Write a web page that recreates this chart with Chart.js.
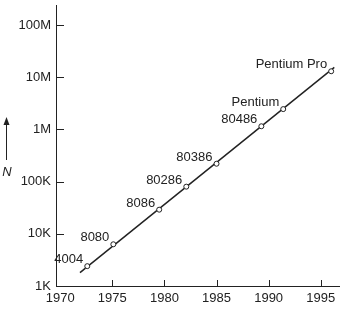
<!DOCTYPE html>
<html>
<head>
<meta charset="utf-8">
<script src="https://cdn.jsdelivr.net/npm/chart.js@4.4.1/dist/chart.umd.min.js"></script>
<style>
  html, body { margin: 0; padding: 0; background: #fff; }
  #wrap { width: 344px; height: 314px; }
</style>
</head>
<body>
<div id="wrap"><canvas id="mooreChart"></canvas></div>
<script>
// processors: year of introduction and transistor count
const chipNames = ['4004', '8080', '8086', '80286', '80386', '80486', 'Pentium', 'Pentium Pro'];
const chipYears = [1972.6, 1975.1, 1979.5, 1982.1, 1985.0, 1989.3, 1991.4, 1996.0];
const chipCounts = [2400, 6300, 29000, 80000, 220000, 1150000, 2450000, 13000000];

// fitted trend line end points
const trendYears = [1971.9, 1996.3];
const trendCounts = [1800, 15500000];

const xTickValues = [1970, 1975, 1980, 1985, 1990, 1995];
const yTickValues = [1e3, 1e4, 1e5, 1e6, 1e7, 1e8];
const yTickLabels = ['1K', '10K', '100K', '1M', '10M', '100M'];

const ink = '#222';
const font = { family: "'Liberation Sans', Arial, Helvetica, sans-serif", size: 13 };

// inward tick marks, point names and the "N" arrow
const decorations = {
    id: 'decorations',
    afterDraw(chart) {
        const ctx = chart.ctx;
        const xs = chart.scales.x;
        const ys = chart.scales.y;
        const area = chart.chartArea;
        ctx.save();
        ctx.strokeStyle = ink;
        ctx.lineWidth = 1;
        ctx.beginPath();
        yTickValues.forEach(function(v) {
            const py = Math.round(ys.getPixelForValue(v)) + 0.5;
            ctx.moveTo(area.left, py);
            ctx.lineTo(area.left + 8, py);
        });
        xTickValues.slice(1).forEach(function(v) {
            const px = Math.round(xs.getPixelForValue(v)) + 0.5;
            ctx.moveTo(px, area.bottom);
            ctx.lineTo(px, area.bottom - 6);
        });
        ctx.stroke();

        // names next to the markers
        ctx.fillStyle = ink;
        ctx.font = font.size + 'px ' + font.family;
        ctx.textAlign = 'right';
        ctx.textBaseline = 'alphabetic';
        chipNames.forEach(function(name, i) {
            const px = xs.getPixelForValue(chipYears[i]);
            const py = ys.getPixelForValue(chipCounts[i]);
            ctx.fillText(name, px - 4, py - 3);
        });

        // axis name with arrow
        ctx.beginPath();
        ctx.moveTo(6.5, 160);
        ctx.lineTo(6.5, 122);
        ctx.stroke();
        ctx.beginPath();
        ctx.moveTo(6.5, 117);
        ctx.lineTo(3.5, 125);
        ctx.lineTo(9.5, 125);
        ctx.closePath();
        ctx.fill();
        ctx.font = 'italic ' + font.size + 'px ' + font.family;
        ctx.textAlign = 'center';
        ctx.fillText('N', 7, 176);
        ctx.restore();
    }
};

const ctx = document.getElementById('mooreChart').getContext('2d');

new Chart(ctx, {
    type: 'scatter',
    data: {
        datasets: [
            {
                label: 'Trend',
                data: trendYears.map(function(y, i) { return { x: y, y: trendCounts[i] }; }),
                showLine: true,
                borderColor: ink,
                borderWidth: 1.5,
                pointRadius: 0,
                order: 2
            },
            {
                label: 'Processors',
                data: chipYears.map(function(y, i) { return { x: y, y: chipCounts[i] }; }),
                pointRadius: 2.5,
                pointBackgroundColor: '#fff',
                pointBorderColor: ink,
                pointBorderWidth: 1,
                order: 1
            }
        ]
    },
    options: {
        responsive: true,
        maintainAspectRatio: false,
        animation: false,
        layout: { padding: { top: 0, right: 3, left: 0, bottom: 0 } },
        plugins: {
            legend: { display: false },
            tooltip: { enabled: false }
        },
        scales: {
            x: {
                type: 'linear',
                min: 1969.6,
                max: 1996.75,
                afterBuildTicks: function(scale) {
                    scale.ticks = xTickValues.map(function(v) { return { value: v }; });
                },
                afterFit: function(scale) {
                    scale.height = 28;
                    scale.paddingLeft = 0;
                    scale.paddingRight = 0;
                },
                grid: { display: false, drawTicks: false },
                border: { display: true, color: ink, width: 1 },
                ticks: {
                    color: ink,
                    font: font,
                    padding: 5,
                    maxRotation: 0,
                    callback: function(value) { return String(value); }
                }
            },
            y: {
                type: 'logarithmic',
                min: 1000,
                max: 2.42e8,
                afterBuildTicks: function(scale) {
                    scale.ticks = yTickValues.map(function(v) { return { value: v }; });
                },
                afterFit: function(scale) {
                    scale.width = 56;
                    scale.paddingTop = 0;
                    scale.paddingBottom = 0;
                },
                grid: { display: false, drawTicks: false },
                border: { display: true, color: ink, width: 1 },
                ticks: {
                    color: ink,
                    font: font,
                    padding: 5,
                    callback: function(value) {
                        const i = yTickValues.indexOf(value);
                        return i >= 0 ? yTickLabels[i] : '';
                    }
                }
            }
        }
    },
    plugins: [decorations]
});
</script>
</body>
</html>
